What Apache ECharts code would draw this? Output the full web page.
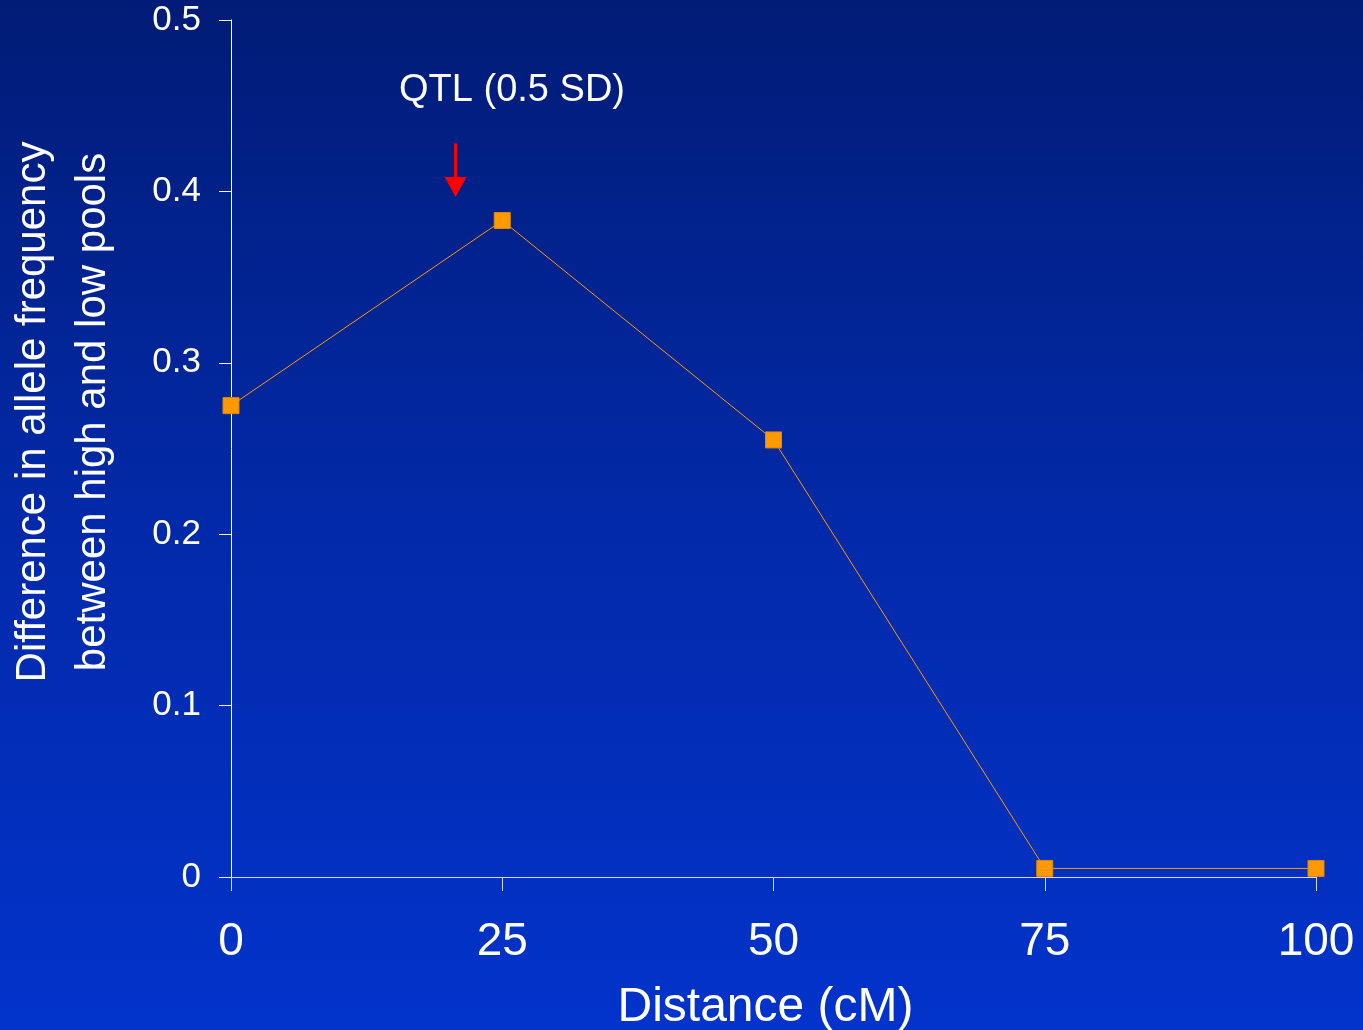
<!DOCTYPE html>
<html>
<head>
<meta charset="utf-8">
<script src="https://cdn.jsdelivr.net/npm/echarts@6/dist/echarts.min.js"></script>
<style>
html,body{margin:0;padding:0;width:1363px;height:1030px;overflow:hidden;}
#c{width:1363px;height:1030px;}
</style>
</head>
<body>
<div id="c"></div>
<script>
// Data
const distances = [0, 25, 50, 75, 100];
const alleleDiff = [0.275, 0.383, 0.255, 0.005, 0.005];
const xTicks = [0, 25, 50, 75, 100];
const yTicks = [0, 0.1, 0.2, 0.3, 0.4, 0.5];
const qtlPosition = 20.7;
const qtlArrowFrom = 0.428;
const qtlArrowTo = 0.4025;
const qtlLabel = 'QTL (0.5 SD)';
const qtlLabelPos = [25.9, 0.459];
const xTitle = 'Distance (cM)';
const yTitle = ['Difference in allele frequency', 'between high and low pools'];

const FONT = '"Liberation Sans", Arial, Helvetica, sans-serif';
const chart = echarts.init(document.getElementById('c'));
chart.setOption({
  backgroundColor: {
    type: 'linear', x: 0, y: 0, x2: 0, y2: 1,
    colorStops: [
      {offset: 0, color: '#011c76'},
      {offset: 0.5, color: '#0229a8'},
      {offset: 1, color: '#0233cb'}
    ]
  },
  animation: false,
  grid: {left: 231, right: 47, top: 20, bottom: 153, containLabel: false, outerBoundsMode: 'none'},
  xAxis: {
    type: 'value', min: xTicks[0], max: xTicks[xTicks.length - 1], interval: 25,
    axisLine: {show: true, lineStyle: {color: '#d0d8f4', width: 1}},
    axisTick: {show: true, length: 14, lineStyle: {color: '#d0d8f4'}},
    splitLine: {show: false},
    axisLabel: {color: '#ffffff', fontFamily: FONT, fontSize: 46, margin: 42},
    name: xTitle, nameLocation: 'middle', nameGap: 107,
    nameTextStyle: {color: '#ffffff', fontFamily: FONT, fontSize: 48, padding: [0, 16, 0, 0]}
  },
  yAxis: {
    type: 'value', min: yTicks[0], max: yTicks[yTicks.length - 1], interval: 0.1,
    axisLine: {show: true, onZero: false, lineStyle: {color: '#ffffff', width: 1}},
    axisTick: {show: true, length: 12, lineStyle: {color: '#ffffff'}},
    splitLine: {show: false},
    axisLabel: {color: '#ffffff', fontFamily: FONT, fontSize: 35, margin: 30}
  },
  graphic: [{
    type: 'text', x: 63, y: 412, rotation: Math.PI / 2,
    style: {
      text: yTitle.join('\n'), fill: '#ffffff', font: '42px ' + FONT,
      textAlign: 'center', textVerticalAlign: 'middle', lineHeight: 60
    }
  }],
  series: [{
    type: 'line',
    data: distances.map((d, i) => [d, alleleDiff[i]]),
    symbol: 'rect', symbolSize: 16,
    lineStyle: {color: '#ff9900', width: 1},
    itemStyle: {color: '#ff9900', borderColor: '#e08a00', borderWidth: 1},
    z: 3,
    markLine: {
      silent: true,
      symbol: ['none', 'triangle'], symbolSize: [22, 20],
      lineStyle: {color: '#ff0000', width: 3, type: 'solid'},
      label: {show: false},
      data: [[{coord: [qtlPosition, qtlArrowFrom]}, {coord: [qtlPosition, qtlArrowTo]}]]
    },
    markPoint: {
      silent: true, symbol: 'circle', symbolSize: 0,
      label: {show: true, position: 'inside', formatter: qtlLabel, color: '#ffffff', fontFamily: FONT, fontSize: 38},
      data: [{coord: qtlLabelPos}]
    }
  }]
});
</script>
</body>
</html>
